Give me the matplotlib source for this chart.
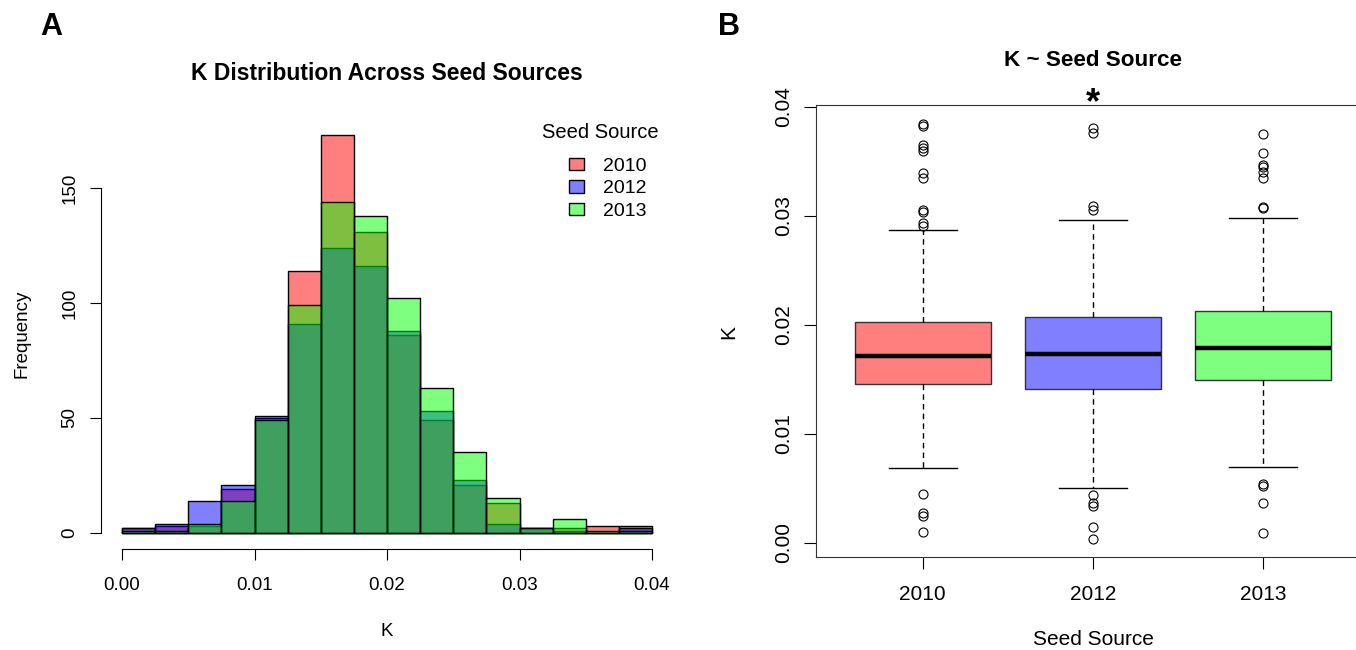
import matplotlib
matplotlib.use("Agg")
from matplotlib import pyplot as plt
from matplotlib.patches import Patch
from matplotlib.ticker import FormatStrFormatter

plt.rcParams['font.family'] = ['Liberation Sans', 'DejaVu Sans']

W, H = 1356, 650

# histogram: K binned in steps of 0.0025 from 0 to 0.04
bin_edges = [i * 0.0025 for i in range(17)]
counts_2010 = [2, 3, 3, 19, 50, 114, 173, 131, 86, 49, 21, 13, 2, 2, 3, 3]
counts_2012 = [2, 4, 14, 21, 51, 91, 124, 116, 88, 53, 23, 4, 2, 1, 0, 2]
counts_2013 = [1, 1, 4, 14, 49, 99, 144, 138, 102, 63, 35, 15, 2, 6, 1, 1]

seed_sources = ["2010", "2012", "2013"]
colors = [(1, 0, 0, 0.5), (0, 0, 1, 0.5), (0, 1, 0, 0.5)]

# boxplot summaries of K per seed source
q1 = [0.01453, 0.01413, 0.01496]
med = [0.01710, 0.01734, 0.01783]
q3 = [0.02022, 0.02068, 0.02126]
whis_lo = [0.00685, 0.00505, 0.00694]
whis_hi = [0.02866, 0.02958, 0.02982]
fliers_2010 = [0.03838, 0.03823, 0.03649, 0.03618, 0.03594, 0.03395, 0.03343,
               0.03052, 0.03031, 0.02936, 0.02908, 0.00444, 0.00270, 0.00245, 0.00101]
fliers_2012 = [0.03802, 0.03756, 0.03092, 0.03052, 0.00438, 0.00367, 0.00337,
               0.00147, 0.00031]
fliers_2013 = [0.03750, 0.03575, 0.03465, 0.03444, 0.03404, 0.03343, 0.03083,
               0.03073, 0.00536, 0.00523, 0.00361, 0.00092]


def px_axes(left, top, right, bottom):
    return [left / W, 1 - bottom / H, (right - left) / W, (bottom - top) / H]


fig = plt.figure(figsize=(W / 100, H / 100), dpi=100)

# ---- A: overlaid histograms ----
ax = fig.add_axes(px_axes(100.8, 119.2, 673.2, 548.9))
widths = [bin_edges[i + 1] - bin_edges[i] for i in range(16)]
for cnt, col in zip([counts_2010, counts_2012, counts_2013], colors):
    ax.bar(bin_edges[:-1], cnt, width=widths, align="edge", color=col,
           edgecolor="black", linewidth=1)
ax.set_xlim(-0.0016, 0.0416)
ax.set_ylim(-6.92, 179.92)
for s in ["top", "right"]:
    ax.spines[s].set_visible(False)
ax.spines["left"].set_bounds(0, 150)
ax.spines["bottom"].set_bounds(0, 0.04)
ax.set_xticks([0, 0.01, 0.02, 0.03, 0.04])
ax.xaxis.set_major_formatter(FormatStrFormatter("%.2f"))
ax.set_yticks([0, 50, 100, 150])
ax.tick_params(axis="x", length=8, pad=12, labelsize=13.5)
ax.tick_params(axis="y", length=8, pad=8, labelsize=13.5, labelrotation=90)
for lbl in ax.get_yticklabels():
    lbl.set_va("center")
ax.set_xlabel("K", fontsize=13.5)
ax.xaxis.set_label_coords(0.5, -0.193)
ax.xaxis.label.set_va("center")
ax.set_ylabel("Frequency", fontsize=13.5)
ax.yaxis.set_label_coords(-0.1377, 0.5)
ax.yaxis.label.set_va("center")
ax.set_title("K Distribution Across Seed Sources", fontsize=16.5,
             fontweight="bold", pad=28)
handles = [Patch(facecolor=c, edgecolor="black", linewidth=1) for c in colors]
ax.legend(handles, seed_sources, loc="upper left",
          bbox_to_anchor=(559 / W, 1 - 148 / H), bbox_transform=fig.transFigure,
          frameon=False, fontsize=14,
          handlelength=0.8, handleheight=0.6, handletextpad=0.95,
          labelspacing=0.29, borderpad=0)
fig.text(600 / W, 1 - 133 / H, "Seed Source", fontsize=14.5,
         ha="center", va="center")

# ---- B: boxplots ----
bx = fig.add_axes(px_axes(815.7, 105.3, 815.7 + 3.256 * 170.3, 556.7))
stats = []
for i, fl in enumerate([fliers_2010, fliers_2012, fliers_2013]):
    stats.append(dict(label=seed_sources[i], q1=q1[i], med=med[i], q3=q3[i],
                      whislo=whis_lo[i], whishi=whis_hi[i], fliers=fl))
parts = bx.bxp(stats, positions=[1, 2, 3], widths=0.8, capwidths=0.4,
               patch_artist=True,
               boxprops=dict(edgecolor="#333333", linewidth=1),
               whiskerprops=dict(linestyle=(0, (4, 3)), linewidth=1, color="black"),
               capprops=dict(linewidth=1, color="black"),
               medianprops=dict(linewidth=3.2, color="black"),
               flierprops=dict(marker="o", markersize=6.5, markerfacecolor="none",
                               markeredgecolor="black", markeredgewidth=0.8))
for patch, col in zip(parts["boxes"], colors):
    patch.set_facecolor(col)
bx.set_xlim(0.372, 3.628)
bx.set_ylim(-0.00128, 0.04013)
for s in bx.spines.values():
    s.set_color("#333333")
bx.set_yticks([0, 0.01, 0.02, 0.03, 0.04])
bx.yaxis.set_major_formatter(FormatStrFormatter("%.2f"))
bx.tick_params(axis="x", length=8.5, pad=12, labelsize=15)
bx.tick_params(axis="y", length=8.5, pad=8, labelsize=15, labelrotation=90)
for lbl in bx.get_yticklabels():
    lbl.set_va("center")
bx.set_xlabel("Seed Source", fontsize=15)
bx.xaxis.set_label_coords(0.5, -0.1845)
bx.xaxis.label.set_va("center")
bx.set_ylabel("K", fontsize=15)
bx.yaxis.set_label_coords(-0.156, 0.498)
bx.yaxis.label.set_va("center")
bx.set_title("K ~ Seed Source", fontsize=16.2, fontweight="bold", pad=28)
bx.text(2, 0.0403, "*", fontsize=26, fontweight="bold", ha="center",
        va="center", clip_on=False)

fig.text(40 / W, 1 - 27 / H, "A", fontsize=22, fontweight="bold", va="center")
fig.text(718 / W, 1 - 27 / H, "B", fontsize=22, fontweight="bold", va="center")

fig.savefig("out.png", dpi=100)
